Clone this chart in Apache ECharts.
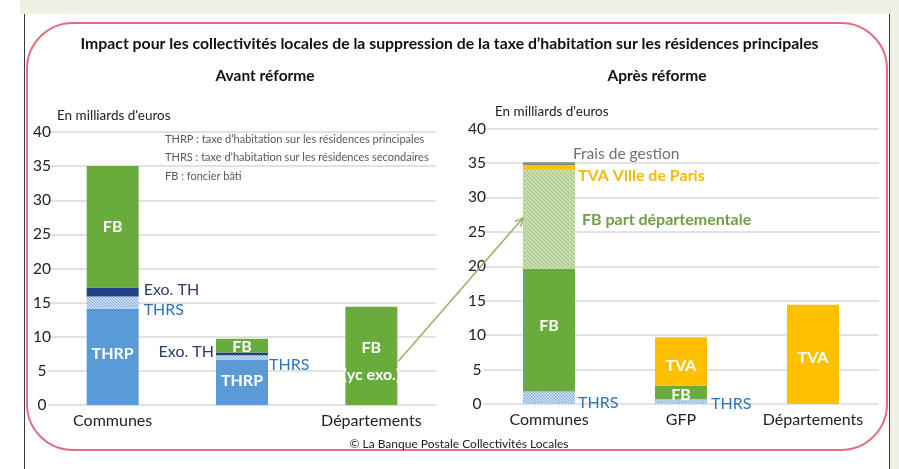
<!DOCTYPE html>
<html>
<head>
<meta charset="utf-8">
<script src="https://cdn.jsdelivr.net/npm/echarts@6/dist/echarts.min.js"></script>
<style>
  html, body { margin: 0; padding: 0; background: #ffffff; }
  #chart { width: 899px; height: 469px; }
</style>
</head>
<body>
<div id="chart"></div>
<script>
// Categories shared by both panels
const categories = ['Communes', 'GFP', 'Départements'];

// Avant réforme (milliards d'euros)
const avantTHRP  = [14.1, 6.6, 0];
const avantTHRS  = [1.8, 0.7, 0];
const avantExoTH = [1.3, 0.4, 0];
const avantFB    = [17.8, 2.0, 14.4];

// Après réforme (milliards d'euros)
const apresTHRS     = [1.8, 0.7, 0];
const apresFB       = [17.8, 2.0, 0];
const apresFBDep    = [14.4, 0, 0];
const apresTVA      = [0, 7.0, 14.4];
const apresTVAParis = [0.7, 0, 0];
const apresFrais    = [0.4, 0, 0];

// Axis range
const yMin = 0, yMax = 40, yStep = 5;

const FONT = 'Lato, "Open Sans", sans-serif';

// Diagonal hatch pattern
function hatch(bg, line, size, width) {
  const c = document.createElement('canvas');
  c.width = size; c.height = size;
  const g = c.getContext('2d');
  g.fillStyle = bg;
  g.fillRect(0, 0, size, size);
  g.strokeStyle = line;
  g.lineWidth = width;
  [-size, 0, size].forEach(function (d) {
    g.beginPath();
    g.moveTo(d - 1, -1);
    g.lineTo(d + size + 1, size + 1);
    g.stroke();
  });
  return { image: c, repeat: 'repeat' };
}

const blueHatch = hatch('#eef4fb', '#7ea9dd', 3, 1.2);
const greenHatch = hatch('#cfe3bd', '#a9cc8b', 4, 1.4);

const whiteLbl = { color: '#ffffff', fontWeight: 'bold', fontSize: 16, fontFamily: FONT };

// Build data items; lbl maps category index -> label options
function items(values, lbl) {
  return values.map(function (v, i) {
    const o = { value: v };
    if (lbl && lbl[i]) o.label = Object.assign({ show: true }, lbl[i]);
    return o;
  });
}

function bar(name, axis, values, color, lbl) {
  return {
    name: name,
    type: 'bar',
    xAxisIndex: axis,
    yAxisIndex: axis,
    stack: 'p' + axis,
    barWidth: 52,
    itemStyle: { color: color },
    label: { show: false, fontFamily: FONT },
    emphasis: { disabled: true },
    data: items(values, lbl)
  };
}

const grids = [
  { left: 48, top: 132, width: 388, height: 273 },
  { left: 483, top: 128.5, width: 396, height: 275.5 }
];

function xAx(i) {
  return {
    type: 'category', gridIndex: i, data: categories,
    axisLine: { show: false }, axisTick: { show: false },
    axisLabel: { color: '#222', fontSize: 16, fontFamily: FONT, margin: 8 }
  };
}
function yAx(i) {
  return {
    type: 'value', gridIndex: i, min: yMin, max: yMax, interval: yStep,
    axisLine: { show: false }, axisTick: { show: false },
    axisLabel: { color: '#222', fontSize: 15.5, fontFamily: FONT, margin: 6, align: 'center' },
    splitLine: { lineStyle: { color: '#d9d9d9', width: 1.6 } }
  };
}

const blueLbl = { color: '#2e75b6', fontSize: 16, fontFamily: FONT };
const darkLbl = { color: '#2b3d6b', fontSize: 16, fontFamily: FONT };

const series = [
  // Avant réforme
  bar('THRP', 0, avantTHRP, '#5b9bd5', {
    0: Object.assign({ position: 'inside', offset: [0, -3], formatter: 'THRP' }, whiteLbl),
    1: Object.assign({ position: 'inside', offset: [0, -2], formatter: 'THRP' }, whiteLbl)
  }),
  bar('THRS', 0, avantTHRS, blueHatch, {
    0: Object.assign({ position: 'right', distance: 5, offset: [0, 7], formatter: 'THRS' }, blueLbl),
    1: Object.assign({ position: 'right', distance: 1, offset: [0, 7], formatter: 'THRS' }, blueLbl)
  }),
  bar('Exo. TH', 0, avantExoTH, '#213f85', {
    0: Object.assign({ position: 'right', distance: 5, offset: [0, -2], formatter: 'Exo. TH' }, darkLbl),
    1: Object.assign({ position: 'left', distance: 2, offset: [0, -2], formatter: 'Exo. TH' }, darkLbl)
  }),
  bar('FB', 0, avantFB, '#6aab3e', {
    0: Object.assign({ position: 'inside', formatter: 'FB' }, whiteLbl),
    1: Object.assign({ position: 'inside', offset: [0, 1], formatter: 'FB' }, whiteLbl),
    2: Object.assign({ position: 'inside', offset: [0, 5], lineHeight: 27, formatter: 'FB\n(yc exo.)' }, whiteLbl)
  }),
  // Après réforme
  bar('THRS', 1, apresTHRS, blueHatch, {
    0: Object.assign({ position: 'right', distance: 3, offset: [0, 5], formatter: 'THRS' }, blueLbl),
    1: Object.assign({ position: 'right', distance: 4, offset: [0, 2], formatter: 'THRS' }, blueLbl)
  }),
  bar('FB', 1, apresFB, '#6aab3e', {
    0: Object.assign({ position: 'inside', offset: [0, -4], formatter: 'FB' }, whiteLbl),
    1: Object.assign({ position: 'inside', offset: [0, 3], formatter: 'FB' }, whiteLbl)
  }),
  bar('FB part départementale', 1, apresFBDep, greenHatch, {
    0: { position: 'right', distance: 7, formatter: 'FB part départementale',
         color: '#6e9e45', fontWeight: 'bold', fontSize: 16, fontFamily: FONT }
  }),
  bar('TVA', 1, apresTVA, '#ffc000', {
    1: Object.assign({ position: 'inside', offset: [0, 5], formatter: 'TVA' }, whiteLbl),
    2: Object.assign({ position: 'inside', offset: [0, 3], formatter: 'TVA' }, whiteLbl)
  }),
  bar('TVA Ville de Paris', 1, apresTVAParis, '#ffc000', {
    0: { position: 'right', distance: 3, offset: [0, 8], formatter: 'TVA Ville de Paris',
         color: '#f7b900', fontWeight: 'bold', fontSize: 16, fontFamily: FONT }
  }),
  bar('Frais de gestion', 1, apresFrais, '#8c8c8c', {
    0: { position: 'right', distance: 0, offset: [-2, -10], formatter: 'Frais de gestion',
         color: '#707070', fontSize: 15.5, fontFamily: FONT }
  })
];

const smallGrey = { fill: '#595959', fontSize: 11, fontFamily: FONT };

const graphic = [
  // page background
  { type: 'rect', z: -10, shape: { x: 20, y: 0, width: 879, height: 14 }, style: { fill: '#eef1e3' } },
  { type: 'rect', z: -10, shape: { x: 890, y: 0, width: 9, height: 469 }, style: { fill: '#eef1e3' } },
  { type: 'line', z: -9, shape: { x1: 24.5, y1: 14, x2: 24.5, y2: 469 }, style: { stroke: '#3a3a3a', lineWidth: 1 } },
  { type: 'line', z: -9, shape: { x1: 889.5, y1: 14, x2: 889.5, y2: 469 }, style: { stroke: '#3a3a3a', lineWidth: 1 } },
  // frame
  { type: 'rect', z: -5, shape: { x: 27, y: 23, width: 860, height: 427, r: 46 },
    style: { fill: 'none', stroke: '#e07080', lineWidth: 2 } },
  // unit labels
  { type: 'text', left: 57, top: 109, style: { text: "En milliards d'euros", fill: '#222', fontSize: 13.5, fontFamily: FONT } },
  { type: 'text', left: 495, top: 105, style: { text: "En milliards d'euros", fill: '#222', fontSize: 13.5, fontFamily: FONT } },
  // abbreviations
  { type: 'text', left: 165, top: 134, style: Object.assign({ text: 'THRP : taxe d’habitation sur les résidences principales' }, smallGrey) },
  { type: 'text', left: 165, top: 152, style: Object.assign({ text: 'THRS : taxe d’habitation sur les résidences secondaires' }, smallGrey) },
  { type: 'text', left: 165, top: 171, style: Object.assign({ text: 'FB : foncier bâti' }, smallGrey) }
];

const chart = echarts.init(document.getElementById('chart'));
chart.setOption({
  animation: false,
  backgroundColor: '#ffffff',
  title: [
    { text: 'Impact pour les collectivités locales de la suppression de la taxe d’habitation sur les résidences principales',
      left: 'center', top: 31, textStyle: { fontSize: 15.8, fontWeight: 'bold', color: '#111', fontFamily: FONT } },
    { text: 'Avant réforme', left: 260, textAlign: 'center', top: 63,
      textStyle: { fontSize: 15.5, fontWeight: 'bold', color: '#111', fontFamily: FONT } },
    { text: 'Après réforme', left: 652, textAlign: 'center', top: 63,
      textStyle: { fontSize: 15.5, fontWeight: 'bold', color: '#111', fontFamily: FONT } },
    { text: '© La Banque Postale Collectivités Locales', left: 454, textAlign: 'center', top: 433,
      textStyle: { fontSize: 12, fontWeight: 'normal', color: '#222', fontFamily: FONT } }
  ],
  grid: grids,
  xAxis: [xAx(0), xAx(1)],
  yAxis: [yAx(0), yAx(1)],
  series: series,
  graphic: graphic
});

// Arrow from the départements' FB bar to the FB part départementale segment
const half = 26;
const a = chart.convertToPixel({ xAxisIndex: 0, yAxisIndex: 0 }, ['Départements', 6.4]);
const b = chart.convertToPixel({ xAxisIndex: 1, yAxisIndex: 1 }, ['Communes', 27]);
const x1 = a[0] + half + 1, y1 = a[1];
const x2 = b[0] - half, y2 = b[1];
const ang = Math.atan2(y2 - y1, x2 - x1);
const hl = 9, spread = 0.45;
chart.setOption({
  graphic: graphic.concat([
    { type: 'line', z: 20, shape: { x1: x1, y1: y1, x2: x2, y2: y2 }, style: { stroke: '#95b264', lineWidth: 1.5 } },
    { type: 'polyline', z: 20, shape: { points: [
        [x2 - hl * Math.cos(ang - spread), y2 - hl * Math.sin(ang - spread)],
        [x2, y2],
        [x2 - hl * Math.cos(ang + spread), y2 - hl * Math.sin(ang + spread)]
      ] }, style: { stroke: '#95b264', lineWidth: 1.5, fill: 'none' } }
  ])
});
</script>
</body>
</html>
